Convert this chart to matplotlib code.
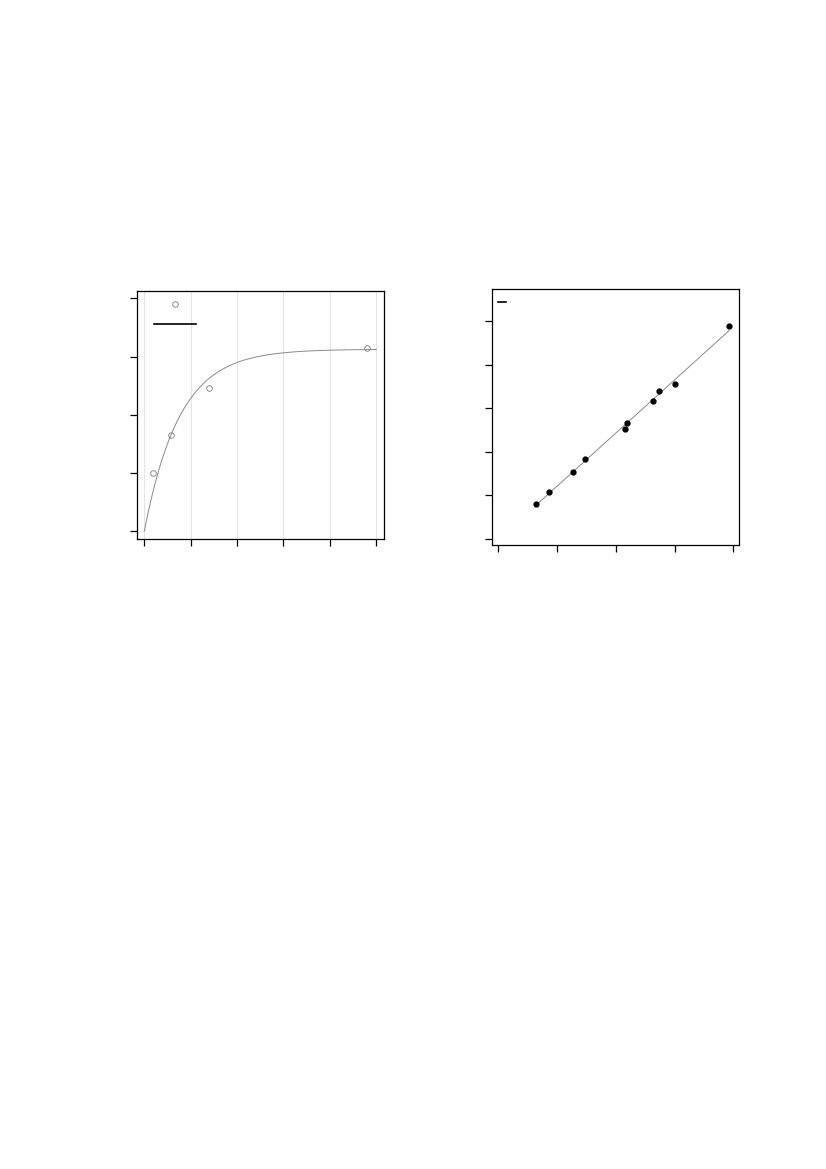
import numpy as np
import matplotlib
matplotlib.use("Agg")
import matplotlib.pyplot as plt
from matplotlib.lines import Line2D

# left panel: observations + saturating fit
obs_x = [0.18, 0.58, 1.39, 4.79]
obs_y = [1.00, 1.65, 2.46, 3.14]
fit_top = 3.125   # plateau of the fitted curve
fit_rate = 1.31   # rate of the fitted curve
left_xticks = [0, 1, 2, 3, 4, 5]
left_yticks = [0, 1, 2, 3, 4]

# right panel: scatter + linear fit
pts_x = [0.65, 0.86, 1.28, 1.47, 2.15, 2.19, 2.64, 2.74, 3.01, 3.93]
pts_y = [0.80, 1.08, 1.53, 1.83, 2.52, 2.65, 3.16, 3.39, 3.56, 4.89]
right_xticks = [0, 1, 2, 3, 4]
right_yticks = [0, 1, 2, 3, 4, 5]

fig = plt.figure(figsize=(8.26, 11.69), dpi=100)

def style(ax):
    for s in ax.spines.values():
        s.set_linewidth(0.9)
    ax.tick_params(direction="out", length=5, width=0.9, labelbottom=False, labelleft=False)

# ---- left
ax1 = fig.add_axes([0.1662, 0.5392, 0.2990, 0.2119])
style(ax1)
ax1.set_xticks(left_xticks)
ax1.set_yticks(left_yticks)
ax1.grid(axis="x", color="#e4e4e4", linewidth=0.8)
ax1.set_axisbelow(True)
xx = np.linspace(0, 5, 200)
ax1.plot(xx, fit_top * (1 - np.exp(-fit_rate * xx)), color="#8a8a8a", lw=0.7)
ax1.plot(obs_x, obs_y, "o", mfc="none", mec="#7a7a7a", ms=4, mew=0.6)
ax1.set_xlim(-0.151, 5.172)
ax1.set_ylim(-0.127, 4.125)
h1 = [Line2D([], [], ls="none", marker="o", mfc="none", mec="#7a7a7a", ms=4, mew=0.6),
      Line2D([], [], color="black", lw=1.2)]
ax1.legend(h1, ["", ""], loc="upper left", bbox_to_anchor=(0.068, 0.974), frameon=False,
           borderpad=0, borderaxespad=0, handlelength=3.05, handletextpad=0, labelspacing=0.43)

# ---- right
ax2 = fig.add_axes([0.5960, 0.5338, 0.2990, 0.2190])
style(ax2)
ax2.set_xticks(right_xticks)
ax2.set_yticks(right_yticks)
slope, icpt = np.polyfit(pts_x, pts_y, 1)
lx = np.array([min(pts_x), max(pts_x)])
ax2.plot(lx, slope * lx + icpt, color="#8a8a8a", lw=0.7)
ax2.plot(pts_x, pts_y, "o", color="black", ms=3.5)
ax2.set_xlim(-0.102, 4.102)
ax2.set_ylim(-0.145, 5.743)
h2 = [Line2D([], [], color="black", lw=1.2)]
ax2.legend(h2, [""], loc="upper left", bbox_to_anchor=(0.024, 0.975), frameon=False,
           borderpad=0, borderaxespad=0, handlelength=0.58, handletextpad=0)

fig.savefig("out.png", dpi=100)
